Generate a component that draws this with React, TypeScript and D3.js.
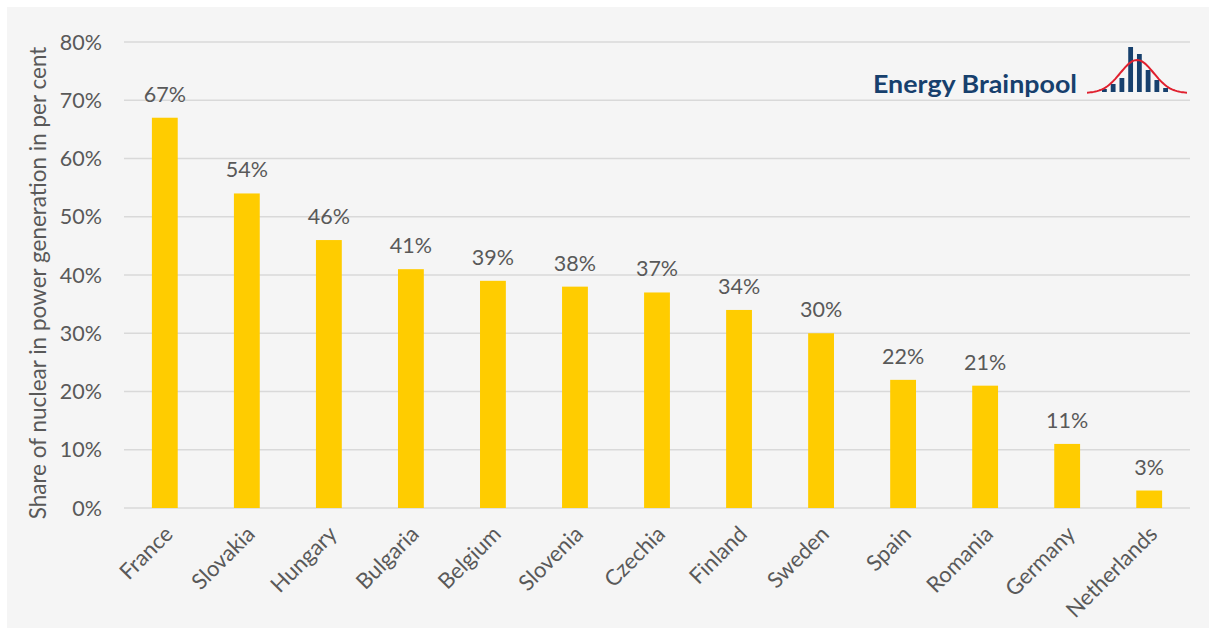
import React from "react";
import * as d3 from "d3";

const categories = ["France","Slovakia","Hungary","Bulgaria","Belgium","Slovenia","Czechia","Finland","Sweden","Spain","Romania","Germany","Netherlands"];
const values = [67,54,46,41,39,38,37,34,30,22,21,11,3];
const yTicks = [0,10,20,30,40,50,60,70,80];
const yTitle = "Share of nuclear in power generation in per cent";
const logoText = "Energy Brainpool";
const logoBars = [3,8,14,45,38,22,12,4];

const W = 1209, H = 629;
const FONT = "Lato, 'Noto Sans', sans-serif";
const TXT = "#595959";

export default function App() {
  const x = d3.scaleBand<string>().domain(categories).range([124, 1190]).paddingInner(0.685).paddingOuter(0.34);
  const y = d3.scaleLinear().domain([0, 80]).range([508, 42]);

  // logo curve
  const lx = d3.scaleLinear().domain([-3, 3]).range([1087, 1187]);
  const curvePts = d3.range(-3, 3.01, 0.1).map(t => [lx(t), 93 - 33 * Math.exp(-t * t / 2)] as [number, number]);
  const curve = d3.line()(curvePts) || "";
  const bx = d3.scaleBand<number>().domain(d3.range(logoBars.length)).range([1102, 1168]).paddingInner(0.45);

  return (
    <svg width={W} height={H} style={{ position: "absolute", left: 0, top: 0 }} fontFamily={FONT}>
      <rect x={0} y={0} width={W} height={H} fill="#ffffff" />
      <rect x={7} y={7} width={W - 7} height={621} fill="#f5f5f5" />
      {yTicks.map(t => (
        <g key={t}>
          <line x1={124} x2={1190} y1={y(t)} y2={y(t)} stroke="#d9d9d9" strokeWidth={1.5} />
          <text x={102} y={y(t)} dy="0.35em" textAnchor="end" fontSize={21.5} fill={TXT}>{t}%</text>
        </g>
      ))}
      <text transform={`translate(46,283) rotate(-90)`} textAnchor="middle" fontSize={22.5} fill={TXT}>{yTitle}</text>
      {categories.map((c, i) => (
        <g key={c}>
          <rect x={x(c)} y={y(values[i])} width={x.bandwidth()} height={y(0) - y(values[i])} fill="#ffcc00" />
          <text x={(x(c) || 0) + x.bandwidth() / 2} y={y(values[i]) - 16} textAnchor="middle" fontSize={21.5} fill={TXT}>{values[i]}%</text>
          <text transform={`translate(${(x(c) || 0) + x.bandwidth() / 2 + 4},530) rotate(-45)`} textAnchor="end" dy="0.35em" fontSize={22} fill={TXT}>{c}</text>
        </g>
      ))}
      {/* logo */}
      <text x={873} y={93} fontSize={25} fontWeight={700} fill="#17406d" textLength={204} lengthAdjust="spacingAndGlyphs">{logoText}</text>
      {logoBars.map((h, i) => (
        <rect key={i} x={bx(i)} y={92 - h} width={bx.bandwidth()} height={h} fill="#17406d" />
      ))}
      <path d={curve} fill="none" stroke="#e0202e" strokeWidth={2} />
    </svg>
  );
}
